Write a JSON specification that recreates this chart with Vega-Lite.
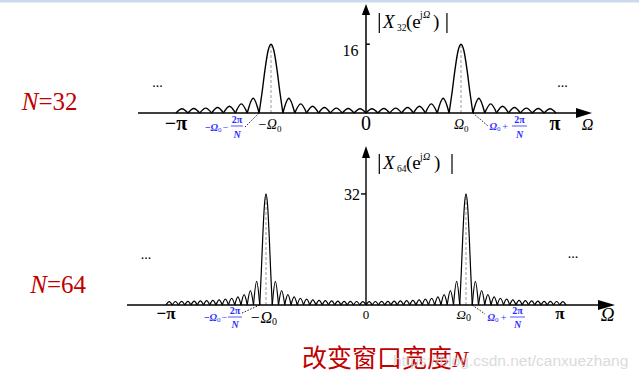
{
"$schema": "https://vega.github.io/schema/vega-lite/v6.json",
"padding": 0,
"spacing": 0,
"background": "white",
"config": {"view": {"stroke": null}, "concat": {"spacing": 0}},
"datasets": {
"c32": [
{"l":1,"x":-1,"y":0},{"l":1,"x":-0.96875,"y":1.005},{"l":1,"x":-0.9375,"y":0},
{"l":2,"x":-0.9375,"y":0},{"l":2,"x":-0.90625,"y":1.045},{"l":2,"x":-0.875,"y":0},
{"l":3,"x":-0.875,"y":0},{"l":3,"x":-0.84375,"y":1.134},{"l":3,"x":-0.8125,"y":0},
{"l":4,"x":-0.8125,"y":0},{"l":4,"x":-0.78125,"y":1.294},{"l":4,"x":-0.75,"y":0},
{"l":5,"x":-0.75,"y":0},{"l":5,"x":-0.71875,"y":1.576},{"l":5,"x":-0.6875,"y":0},
{"l":6,"x":-0.6875,"y":0},{"l":6,"x":-0.65625,"y":2.121},{"l":6,"x":-0.625,"y":0},
{"l":7,"x":-0.625,"y":0},{"l":7,"x":-0.59375,"y":3.445},{"l":7,"x":-0.5625,"y":0},
{"l":8,"x":-0.5625,"y":0},{"l":8,"x":-0.546875,"y":4.82},{"l":8,"x":-0.53125,"y":10.2},{"l":8,"x":-0.515625,"y":14.41},{"l":8,"x":-0.5,"y":16},{"l":8,"x":-0.484375,"y":14.41},{"l":8,"x":-0.46875,"y":10.2},{"l":8,"x":-0.453125,"y":4.82},{"l":8,"x":-0.4375,"y":0},
{"l":9,"x":-0.4375,"y":0},{"l":9,"x":-0.40625,"y":3.445},{"l":9,"x":-0.375,"y":0},
{"l":10,"x":-0.375,"y":0},{"l":10,"x":-0.34375,"y":2.121},{"l":10,"x":-0.3125,"y":0},
{"l":11,"x":-0.3125,"y":0},{"l":11,"x":-0.28125,"y":1.576},{"l":11,"x":-0.25,"y":0},
{"l":12,"x":-0.25,"y":0},{"l":12,"x":-0.21875,"y":1.294},{"l":12,"x":-0.1875,"y":0},
{"l":13,"x":-0.1875,"y":0},{"l":13,"x":-0.15625,"y":1.134},{"l":13,"x":-0.125,"y":0},
{"l":14,"x":-0.125,"y":0},{"l":14,"x":-0.09375,"y":1.045},{"l":14,"x":-0.0625,"y":0},
{"l":15,"x":-0.0625,"y":0},{"l":15,"x":-0.03125,"y":1.005},{"l":15,"x":0,"y":0},
{"l":16,"x":0,"y":0},{"l":16,"x":0.03125,"y":1.005},{"l":16,"x":0.0625,"y":0},
{"l":17,"x":0.0625,"y":0},{"l":17,"x":0.09375,"y":1.045},{"l":17,"x":0.125,"y":0},
{"l":18,"x":0.125,"y":0},{"l":18,"x":0.15625,"y":1.134},{"l":18,"x":0.1875,"y":0},
{"l":19,"x":0.1875,"y":0},{"l":19,"x":0.21875,"y":1.294},{"l":19,"x":0.25,"y":0},
{"l":20,"x":0.25,"y":0},{"l":20,"x":0.28125,"y":1.576},{"l":20,"x":0.3125,"y":0},
{"l":21,"x":0.3125,"y":0},{"l":21,"x":0.34375,"y":2.121},{"l":21,"x":0.375,"y":0},
{"l":22,"x":0.375,"y":0},{"l":22,"x":0.40625,"y":3.445},{"l":22,"x":0.4375,"y":0},
{"l":23,"x":0.4375,"y":0},{"l":23,"x":0.453125,"y":4.82},{"l":23,"x":0.46875,"y":10.2},{"l":23,"x":0.484375,"y":14.41},{"l":23,"x":0.5,"y":16},{"l":23,"x":0.515625,"y":14.41},{"l":23,"x":0.53125,"y":10.2},{"l":23,"x":0.546875,"y":4.82},{"l":23,"x":0.5625,"y":0},
{"l":24,"x":0.5625,"y":0},{"l":24,"x":0.59375,"y":3.445},{"l":24,"x":0.625,"y":0},
{"l":25,"x":0.625,"y":0},{"l":25,"x":0.65625,"y":2.121},{"l":25,"x":0.6875,"y":0},
{"l":26,"x":0.6875,"y":0},{"l":26,"x":0.71875,"y":1.576},{"l":26,"x":0.75,"y":0},
{"l":27,"x":0.75,"y":0},{"l":27,"x":0.78125,"y":1.294},{"l":27,"x":0.8125,"y":0},
{"l":28,"x":0.8125,"y":0},{"l":28,"x":0.84375,"y":1.134},{"l":28,"x":0.875,"y":0},
{"l":29,"x":0.875,"y":0},{"l":29,"x":0.90625,"y":1.045},{"l":29,"x":0.9375,"y":0},
{"l":30,"x":0.9375,"y":0},{"l":30,"x":0.96875,"y":1.005},{"l":30,"x":1,"y":0}
],
"c64": [
{"l":1,"x":-1,"y":0},{"l":1,"x":-0.984375,"y":1.001},{"l":1,"x":-0.96875,"y":0},
{"l":2,"x":-0.96875,"y":0},{"l":2,"x":-0.953125,"y":1.011},{"l":2,"x":-0.9375,"y":0},
{"l":3,"x":-0.9375,"y":0},{"l":3,"x":-0.921875,"y":1.031},{"l":3,"x":-0.90625,"y":0},
{"l":4,"x":-0.90625,"y":0},{"l":4,"x":-0.890625,"y":1.062},{"l":4,"x":-0.875,"y":0},
{"l":5,"x":-0.875,"y":0},{"l":5,"x":-0.859375,"y":1.106},{"l":5,"x":-0.84375,"y":0},
{"l":6,"x":-0.84375,"y":0},{"l":6,"x":-0.828125,"y":1.166},{"l":6,"x":-0.8125,"y":0},
{"l":7,"x":-0.8125,"y":0},{"l":7,"x":-0.796875,"y":1.245},{"l":7,"x":-0.78125,"y":0},
{"l":8,"x":-0.78125,"y":0},{"l":8,"x":-0.765625,"y":1.35},{"l":8,"x":-0.75,"y":0},
{"l":9,"x":-0.75,"y":0},{"l":9,"x":-0.734375,"y":1.489},{"l":9,"x":-0.71875,"y":0},
{"l":10,"x":-0.71875,"y":0},{"l":10,"x":-0.703125,"y":1.679},{"l":10,"x":-0.6875,"y":0},
{"l":11,"x":-0.6875,"y":0},{"l":11,"x":-0.671875,"y":1.945},{"l":11,"x":-0.65625,"y":0},
{"l":12,"x":-0.65625,"y":0},{"l":12,"x":-0.640625,"y":2.339},{"l":12,"x":-0.625,"y":0},
{"l":13,"x":-0.625,"y":0},{"l":13,"x":-0.609375,"y":2.968},{"l":13,"x":-0.59375,"y":0},
{"l":14,"x":-0.59375,"y":0},{"l":14,"x":-0.578125,"y":4.116},{"l":14,"x":-0.5625,"y":0},
{"l":15,"x":-0.5625,"y":0},{"l":15,"x":-0.546875,"y":6.815},{"l":15,"x":-0.53125,"y":0},
{"l":16,"x":-0.53125,"y":0},{"l":16,"x":-0.5234375,"y":9.612},{"l":16,"x":-0.515625,"y":20.38},{"l":16,"x":-0.5078125,"y":28.81},{"l":16,"x":-0.5,"y":32},{"l":16,"x":-0.4921875,"y":28.81},{"l":16,"x":-0.484375,"y":20.38},{"l":16,"x":-0.4765625,"y":9.612},{"l":16,"x":-0.46875,"y":0},
{"l":17,"x":-0.46875,"y":0},{"l":17,"x":-0.453125,"y":6.815},{"l":17,"x":-0.4375,"y":0},
{"l":18,"x":-0.4375,"y":0},{"l":18,"x":-0.421875,"y":4.116},{"l":18,"x":-0.40625,"y":0},
{"l":19,"x":-0.40625,"y":0},{"l":19,"x":-0.390625,"y":2.968},{"l":19,"x":-0.375,"y":0},
{"l":20,"x":-0.375,"y":0},{"l":20,"x":-0.359375,"y":2.339},{"l":20,"x":-0.34375,"y":0},
{"l":21,"x":-0.34375,"y":0},{"l":21,"x":-0.328125,"y":1.945},{"l":21,"x":-0.3125,"y":0},
{"l":22,"x":-0.3125,"y":0},{"l":22,"x":-0.296875,"y":1.679},{"l":22,"x":-0.28125,"y":0},
{"l":23,"x":-0.28125,"y":0},{"l":23,"x":-0.265625,"y":1.489},{"l":23,"x":-0.25,"y":0},
{"l":24,"x":-0.25,"y":0},{"l":24,"x":-0.234375,"y":1.35},{"l":24,"x":-0.21875,"y":0},
{"l":25,"x":-0.21875,"y":0},{"l":25,"x":-0.203125,"y":1.245},{"l":25,"x":-0.1875,"y":0},
{"l":26,"x":-0.1875,"y":0},{"l":26,"x":-0.171875,"y":1.166},{"l":26,"x":-0.15625,"y":0},
{"l":27,"x":-0.15625,"y":0},{"l":27,"x":-0.140625,"y":1.106},{"l":27,"x":-0.125,"y":0},
{"l":28,"x":-0.125,"y":0},{"l":28,"x":-0.109375,"y":1.062},{"l":28,"x":-0.09375,"y":0},
{"l":29,"x":-0.09375,"y":0},{"l":29,"x":-0.078125,"y":1.031},{"l":29,"x":-0.0625,"y":0},
{"l":30,"x":-0.0625,"y":0},{"l":30,"x":-0.046875,"y":1.011},{"l":30,"x":-0.03125,"y":0},
{"l":31,"x":-0.03125,"y":0},{"l":31,"x":-0.015625,"y":1.001},{"l":31,"x":0,"y":0},
{"l":32,"x":0,"y":0},{"l":32,"x":0.015625,"y":1.001},{"l":32,"x":0.03125,"y":0},
{"l":33,"x":0.03125,"y":0},{"l":33,"x":0.046875,"y":1.011},{"l":33,"x":0.0625,"y":0},
{"l":34,"x":0.0625,"y":0},{"l":34,"x":0.078125,"y":1.031},{"l":34,"x":0.09375,"y":0},
{"l":35,"x":0.09375,"y":0},{"l":35,"x":0.109375,"y":1.062},{"l":35,"x":0.125,"y":0},
{"l":36,"x":0.125,"y":0},{"l":36,"x":0.140625,"y":1.106},{"l":36,"x":0.15625,"y":0},
{"l":37,"x":0.15625,"y":0},{"l":37,"x":0.171875,"y":1.166},{"l":37,"x":0.1875,"y":0},
{"l":38,"x":0.1875,"y":0},{"l":38,"x":0.203125,"y":1.245},{"l":38,"x":0.21875,"y":0},
{"l":39,"x":0.21875,"y":0},{"l":39,"x":0.234375,"y":1.35},{"l":39,"x":0.25,"y":0},
{"l":40,"x":0.25,"y":0},{"l":40,"x":0.265625,"y":1.489},{"l":40,"x":0.28125,"y":0},
{"l":41,"x":0.28125,"y":0},{"l":41,"x":0.296875,"y":1.679},{"l":41,"x":0.3125,"y":0},
{"l":42,"x":0.3125,"y":0},{"l":42,"x":0.328125,"y":1.945},{"l":42,"x":0.34375,"y":0},
{"l":43,"x":0.34375,"y":0},{"l":43,"x":0.359375,"y":2.339},{"l":43,"x":0.375,"y":0},
{"l":44,"x":0.375,"y":0},{"l":44,"x":0.390625,"y":2.968},{"l":44,"x":0.40625,"y":0},
{"l":45,"x":0.40625,"y":0},{"l":45,"x":0.421875,"y":4.116},{"l":45,"x":0.4375,"y":0},
{"l":46,"x":0.4375,"y":0},{"l":46,"x":0.453125,"y":6.815},{"l":46,"x":0.46875,"y":0},
{"l":47,"x":0.46875,"y":0},{"l":47,"x":0.4765625,"y":9.612},{"l":47,"x":0.484375,"y":20.38},{"l":47,"x":0.4921875,"y":28.81},{"l":47,"x":0.5,"y":32},{"l":47,"x":0.5078125,"y":28.81},{"l":47,"x":0.515625,"y":20.38},{"l":47,"x":0.5234375,"y":9.612},{"l":47,"x":0.53125,"y":0},
{"l":48,"x":0.53125,"y":0},{"l":48,"x":0.546875,"y":6.815},{"l":48,"x":0.5625,"y":0},
{"l":49,"x":0.5625,"y":0},{"l":49,"x":0.578125,"y":4.116},{"l":49,"x":0.59375,"y":0},
{"l":50,"x":0.59375,"y":0},{"l":50,"x":0.609375,"y":2.968},{"l":50,"x":0.625,"y":0},
{"l":51,"x":0.625,"y":0},{"l":51,"x":0.640625,"y":2.339},{"l":51,"x":0.65625,"y":0},
{"l":52,"x":0.65625,"y":0},{"l":52,"x":0.671875,"y":1.945},{"l":52,"x":0.6875,"y":0},
{"l":53,"x":0.6875,"y":0},{"l":53,"x":0.703125,"y":1.679},{"l":53,"x":0.71875,"y":0},
{"l":54,"x":0.71875,"y":0},{"l":54,"x":0.734375,"y":1.489},{"l":54,"x":0.75,"y":0},
{"l":55,"x":0.75,"y":0},{"l":55,"x":0.765625,"y":1.35},{"l":55,"x":0.78125,"y":0},
{"l":56,"x":0.78125,"y":0},{"l":56,"x":0.796875,"y":1.245},{"l":56,"x":0.8125,"y":0},
{"l":57,"x":0.8125,"y":0},{"l":57,"x":0.828125,"y":1.166},{"l":57,"x":0.84375,"y":0},
{"l":58,"x":0.84375,"y":0},{"l":58,"x":0.859375,"y":1.106},{"l":58,"x":0.875,"y":0},
{"l":59,"x":0.875,"y":0},{"l":59,"x":0.890625,"y":1.062},{"l":59,"x":0.90625,"y":0},
{"l":60,"x":0.90625,"y":0},{"l":60,"x":0.921875,"y":1.031},{"l":60,"x":0.9375,"y":0},
{"l":61,"x":0.9375,"y":0},{"l":61,"x":0.953125,"y":1.011},{"l":61,"x":0.96875,"y":0},
{"l":62,"x":0.96875,"y":0},{"l":62,"x":0.984375,"y":1.001},{"l":62,"x":1,"y":0}
],
"band": [{"x":-1.926316,"x2":1.436842,"y":26.27907,"y2":25.6977}],
"r1ax": [{"x":-1.2,"x2":1.1105,"y":0,"y2":0},{"x":0,"x2":0,"y":0,"y2":22.79},{"x":0,"x2":0.02,"y":16,"y2":16}],
"r1bar": [{"x":0.07,"x2":0.07,"y":23.26,"y2":18.6},{"x":0.426,"x2":0.426,"y":23.26,"y2":18.6}],
"r1dash": [{"x":-0.5,"x2":-0.5,"y":0,"y2":16},{"x":0.5,"x2":0.5,"y":0,"y2":16}],
"r1lead": [{"x":-0.637,"x2":-0.5625,"y":-3.26,"y2":0},{"x":0.5625,"x2":0.642,"y":0,"y2":-3.02}],
"r1frac": [{"x":-0.7105,"x2":-0.6474,"y":-3.02,"y2":-3.02},{"x":0.768,"x2":0.847,"y":-3.02,"y2":-3.02}],
"p1h": [{"x":1.1474,"y":0}],
"p1v": [{"x":0,"y":24.07}],
"t1pi": [{"x":-1,"y":-3.84,"t":"−π"},{"x":0.995,"y":-3.84,"t":"π"}],
"t1zero": [{"x":0,"y":-3.95,"t":"0"}],
"t1tick": [{"x":-0.0395,"y":13.26,"t":"16"}],
"t1om": [{"x":-0.4684,"y":-3.72,"t":"−Ω"},{"x":0.5158,"y":-3.72,"t":"Ω"}],
"t1sub": [{"x":-0.4684,"y":-4.4,"t":"0"},{"x":0.5158,"y":-4.4,"t":"0"}],
"t1axn": [{"x":1.166,"y":-3.95,"t":"Ω"}],
"t1dots": [{"x":-1.097,"y":6.05,"t":"..."},{"x":1.034,"y":6.16,"t":"..."}],
"t1X": [{"x":0.0895,"y":19.7,"t":"X"}],
"t1par": [{"x":0.2105,"y":19.7,"t":"(e"},{"x":0.3526,"y":19.7,"t":")"}],
"t1s": [{"x":0.1632,"y":19.07,"t":"32"},{"x":0.284,"y":21.98,"t":"j"}],
"t1sO": [{"x":0.3,"y":21.98,"t":"Ω"}],
"t1bO": [{"x":-0.779,"y":-4.19,"t":"−Ω"},{"x":0.6895,"y":-3.95,"t":"Ω"}],
"t1bsub": [{"x":-0.779,"y":-4.53,"t":"0"},{"x":0.6895,"y":-4.3,"t":"0"}],
"t1bop": [{"x":-0.7395,"y":-4.19,"t":"−"},{"x":0.7316,"y":-3.95,"t":"+"}],
"t1b2pi": [{"x":-0.679,"y":-2.33,"t":"2π"},{"x":0.8079,"y":-2.33,"t":"2π"}],
"t1bN": [{"x":-0.679,"y":-5.93,"t":"N"},{"x":0.8079,"y":-5.93,"t":"N"}],
"t1rN": [{"x":-1.7237,"y":0.698,"t":"N"}],
"t1rEq": [{"x":-1.7237,"y":0.698,"t":"=32"}],
"r2ax": [{"x":-1.195,"x2":1.16,"y":0,"y2":0},{"x":0,"x2":0,"y":0,"y2":42.36},{"x":-0.025,"x2":0,"y":32,"y2":32}],
"r2bar": [{"x":0.0665,"x2":0.0665,"y":43.52,"y2":37.75},{"x":0.43,"x2":0.43,"y":43.52,"y2":37.75}],
"r2dash": [{"x":-0.5,"x2":-0.5,"y":0,"y2":32},{"x":0.5,"x2":0.5,"y":0,"y2":32}],
"r2lead": [{"x":-0.62,"x2":-0.53125,"y":-2.31,"y2":0},{"x":0.53125,"x2":0.595,"y":0,"y2":-2.59}],
"r2frac": [{"x":-0.69,"x2":-0.62,"y":-3.46,"y2":-3.46},{"x":0.72,"x2":0.795,"y":-3.46,"y2":-3.46}],
"p2h": [{"x":1.2025,"y":0}],
"p2v": [{"x":0,"y":44.09}],
"t2pi": [{"x":-1,"y":-4.03,"t":"−π"},{"x":0.97,"y":-4.03,"t":"π"}],
"t2zero": [{"x":0,"y":-4.03,"t":"0"}],
"t2tick": [{"x":-0.03,"y":30.4,"t":"32"}],
"t2omL": [{"x":-0.47,"y":-5.19,"t":"−Ω"}],
"t2omR": [{"x":0.5,"y":-4.03,"t":"Ω"}],
"t2sub": [{"x":-0.47,"y":-5.62,"t":"0"},{"x":0.5,"y":-4.61,"t":"0"}],
"t2axn": [{"x":1.2075,"y":-4.61,"t":"Ω"}],
"t2dots": [{"x":-1.1,"y":13.26,"t":"..."},{"x":1.035,"y":13.54,"t":"..."}],
"t2X": [{"x":0.085,"y":39.11,"t":"X"}],
"t2par": [{"x":0.2,"y":39.11,"t":"(e"},{"x":0.34,"y":39.11,"t":")"}],
"t2s": [{"x":0.155,"y":38.47,"t":"64"},{"x":0.27,"y":41.93,"t":"j"}],
"t2sO": [{"x":0.285,"y":41.93,"t":"Ω"}],
"t2bO": [{"x":-0.745,"y":-4.61,"t":"−Ω"},{"x":0.645,"y":-4.61,"t":"Ω"}],
"t2bsub": [{"x":-0.745,"y":-5.04,"t":"0"},{"x":0.645,"y":-5.04,"t":"0"}],
"t2bop": [{"x":-0.7075,"y":-4.61,"t":"−"},{"x":0.6875,"y":-4.61,"t":"+"}],
"t2b2pi": [{"x":-0.655,"y":-2.59,"t":"2π"},{"x":0.7575,"y":-2.59,"t":"2π"}],
"t2bN": [{"x":-0.655,"y":-6.63,"t":"N"},{"x":0.7575,"y":-6.63,"t":"N"}],
"t2rN": [{"x":-1.595,"y":3.46,"t":"N"}],
"t2rEq": [{"x":-1.595,"y":3.46,"t":"=64"}],
"t2cn": [{"x":-0.32,"y":-17.87,"t":"改变窗口宽度"}],
"t2cnN": [{"x":0.43,"y":-17.87,"t":"N"}],
"t2wm": [{"x":0.135,"y":-17.58,"t":"https://blog.csdn.net/canxuezhang"}]
},
"vconcat": [
{
"width": 639, "height": 140,
"encoding": {
"x": {"field": "x", "type": "quantitative", "scale": {"domain": [-1.926316, 1.436842], "nice": false, "zero": false}, "axis": null},
"y": {"field": "y", "type": "quantitative", "scale": {"domain": [-6.27907, 26.27907], "nice": false, "zero": false}, "axis": null}
},
"layer": [
{"data": {"name": "band"}, "mark": {"type": "rect", "color": "#c9d9ee"}, "encoding": {"x2": {"field": "x2"}, "y2": {"field": "y2"}}},
{"data": {"name": "r1dash"}, "mark": {"type": "rule", "color": "#999999", "strokeWidth": 1, "strokeDash": [3, 2]}, "encoding": {"x2": {"field": "x2"}, "y2": {"field": "y2"}}},
{"data": {"name": "r1ax"}, "mark": {"type": "rule", "color": "#000000", "strokeWidth": 1.5}, "encoding": {"x2": {"field": "x2"}, "y2": {"field": "y2"}}},
{"data": {"name": "c32"}, "mark": {"type": "line", "interpolate": "monotone", "color": "#000000", "strokeWidth": 1.4}, "encoding": {"detail": {"field": "l"}}},
{"data": {"name": "r1lead"}, "mark": {"type": "rule", "color": "#000000", "strokeWidth": 0.9, "strokeDash": [1.5, 1.5]}, "encoding": {"x2": {"field": "x2"}, "y2": {"field": "y2"}}},
{"data": {"name": "r1bar"}, "mark": {"type": "rule", "color": "#000000", "strokeWidth": 1.2}, "encoding": {"x2": {"field": "x2"}, "y2": {"field": "y2"}}},
{"data": {"name": "r1frac"}, "mark": {"type": "rule", "color": "#2b2bff", "strokeWidth": 0.8}, "encoding": {"x2": {"field": "x2"}, "y2": {"field": "y2"}}},
{"data": {"name": "p1h"}, "mark": {"type": "point", "shape": "M-1,-0.62L1,0L-1,0.62Z", "size": 256, "filled": true, "color": "#000000", "opacity": 1}},
{"data": {"name": "p1v"}, "mark": {"type": "point", "shape": "M0,-1L0.75,1L-0.75,1Z", "size": 121, "filled": true, "color": "#000000", "opacity": 1}},
{"data": {"name": "t1pi"}, "mark": {"type": "text", "font": "Liberation Serif", "fontSize": 20, "fontWeight": "bold", "align": "center", "baseline": "alphabetic", "color": "#000000"}, "encoding": {"text": {"field": "t"}}},
{"data": {"name": "t1zero"}, "mark": {"type": "text", "font": "Liberation Serif", "fontSize": 20, "align": "center", "baseline": "alphabetic", "color": "#000000"}, "encoding": {"text": {"field": "t"}}},
{"data": {"name": "t1tick"}, "mark": {"type": "text", "font": "Liberation Serif", "fontSize": 16, "align": "right", "baseline": "alphabetic", "color": "#000000"}, "encoding": {"text": {"field": "t"}}},
{"data": {"name": "t1om"}, "mark": {"type": "text", "font": "Liberation Serif", "fontSize": 14, "fontStyle": "italic", "align": "right", "baseline": "alphabetic", "color": "#000000"}, "encoding": {"text": {"field": "t"}}},
{"data": {"name": "t1sub"}, "mark": {"type": "text", "font": "Liberation Serif", "fontSize": 9, "align": "left", "baseline": "alphabetic", "color": "#000000"}, "encoding": {"text": {"field": "t"}}},
{"data": {"name": "t1axn"}, "mark": {"type": "text", "font": "Liberation Serif", "fontSize": 16, "fontStyle": "italic", "align": "center", "baseline": "alphabetic", "color": "#000000"}, "encoding": {"text": {"field": "t"}}},
{"data": {"name": "t1dots"}, "mark": {"type": "text", "font": "Liberation Serif", "fontSize": 14, "align": "center", "baseline": "alphabetic", "color": "#000000"}, "encoding": {"text": {"field": "t"}}},
{"data": {"name": "t1X"}, "mark": {"type": "text", "font": "Liberation Serif", "fontSize": 19, "fontStyle": "italic", "align": "left", "baseline": "alphabetic", "color": "#000000"}, "encoding": {"text": {"field": "t"}}},
{"data": {"name": "t1par"}, "mark": {"type": "text", "font": "Liberation Serif", "fontSize": 19, "align": "left", "baseline": "alphabetic", "color": "#000000"}, "encoding": {"text": {"field": "t"}}},
{"data": {"name": "t1s"}, "mark": {"type": "text", "font": "Liberation Serif", "fontSize": 9.5, "align": "left", "baseline": "alphabetic", "color": "#000000"}, "encoding": {"text": {"field": "t"}}},
{"data": {"name": "t1sO"}, "mark": {"type": "text", "font": "Liberation Serif", "fontSize": 10, "fontStyle": "italic", "align": "left", "baseline": "alphabetic", "color": "#000000"}, "encoding": {"text": {"field": "t"}}},
{"data": {"name": "t1bO"}, "mark": {"type": "text", "font": "Liberation Serif", "fontSize": 10, "fontStyle": "italic", "fontWeight": "bold", "align": "right", "baseline": "alphabetic", "color": "#2b2bff"}, "encoding": {"text": {"field": "t"}}},
{"data": {"name": "t1bsub"}, "mark": {"type": "text", "font": "Liberation Serif", "fontSize": 7, "align": "left", "baseline": "alphabetic", "color": "#2b2bff"}, "encoding": {"text": {"field": "t"}}},
{"data": {"name": "t1bop"}, "mark": {"type": "text", "font": "Liberation Serif", "fontSize": 10, "align": "center", "baseline": "alphabetic", "color": "#2b2bff"}, "encoding": {"text": {"field": "t"}}},
{"data": {"name": "t1b2pi"}, "mark": {"type": "text", "font": "Liberation Serif", "fontSize": 10, "fontWeight": "bold", "align": "center", "baseline": "alphabetic", "color": "#2b2bff"}, "encoding": {"text": {"field": "t"}}},
{"data": {"name": "t1bN"}, "mark": {"type": "text", "font": "Liberation Serif", "fontSize": 10, "fontStyle": "italic", "fontWeight": "bold", "align": "center", "baseline": "alphabetic", "color": "#2b2bff"}, "encoding": {"text": {"field": "t"}}},
{"data": {"name": "t1rN"}, "mark": {"type": "text", "font": "Liberation Serif", "fontSize": 25, "fontStyle": "italic", "align": "right", "baseline": "alphabetic", "color": "#c00000"}, "encoding": {"text": {"field": "t"}}},
{"data": {"name": "t1rEq"}, "mark": {"type": "text", "font": "Liberation Serif", "fontSize": 25, "align": "left", "baseline": "alphabetic", "color": "#c00000"}, "encoding": {"text": {"field": "t"}}}
]
},
{
"width": 639, "height": 239,
"encoding": {
"x": {"field": "x", "type": "quantitative", "scale": {"domain": [-1.83, 1.365], "nice": false, "zero": false}, "axis": null},
"y": {"field": "y", "type": "quantitative", "scale": {"domain": [-21.6138, 47.2622], "nice": false, "zero": false}, "axis": null}
},
"layer": [
{"data": {"name": "r2dash"}, "mark": {"type": "rule", "color": "#999999", "strokeWidth": 1, "strokeDash": [3, 2]}, "encoding": {"x2": {"field": "x2"}, "y2": {"field": "y2"}}},
{"data": {"name": "r2ax"}, "mark": {"type": "rule", "color": "#000000", "strokeWidth": 1.4}, "encoding": {"x2": {"field": "x2"}, "y2": {"field": "y2"}}},
{"data": {"name": "c64"}, "mark": {"type": "line", "interpolate": "monotone", "color": "#000000", "strokeWidth": 1.2}, "encoding": {"detail": {"field": "l"}}},
{"data": {"name": "r2lead"}, "mark": {"type": "rule", "color": "#000000", "strokeWidth": 0.9, "strokeDash": [1.5, 1.5]}, "encoding": {"x2": {"field": "x2"}, "y2": {"field": "y2"}}},
{"data": {"name": "r2bar"}, "mark": {"type": "rule", "color": "#000000", "strokeWidth": 1.2}, "encoding": {"x2": {"field": "x2"}, "y2": {"field": "y2"}}},
{"data": {"name": "r2frac"}, "mark": {"type": "rule", "color": "#2b2bff", "strokeWidth": 0.8}, "encoding": {"x2": {"field": "x2"}, "y2": {"field": "y2"}}},
{"data": {"name": "p2h"}, "mark": {"type": "point", "shape": "M-1,-0.6L1,0L-1,0.6Z", "size": 289, "filled": true, "color": "#000000", "opacity": 1}},
{"data": {"name": "p2v"}, "mark": {"type": "point", "shape": "M0,-1L0.67,1L-0.67,1Z", "size": 144, "filled": true, "color": "#000000", "opacity": 1}},
{"data": {"name": "t2pi"}, "mark": {"type": "text", "font": "Liberation Serif", "fontSize": 17, "fontWeight": "bold", "align": "center", "baseline": "alphabetic", "color": "#000000"}, "encoding": {"text": {"field": "t"}}},
{"data": {"name": "t2zero"}, "mark": {"type": "text", "font": "Liberation Serif", "fontSize": 13, "align": "center", "baseline": "alphabetic", "color": "#000000"}, "encoding": {"text": {"field": "t"}}},
{"data": {"name": "t2tick"}, "mark": {"type": "text", "font": "Liberation Serif", "fontSize": 16, "align": "right", "baseline": "alphabetic", "color": "#000000"}, "encoding": {"text": {"field": "t"}}},
{"data": {"name": "t2omL"}, "mark": {"type": "text", "font": "Liberation Serif", "fontSize": 16, "fontStyle": "italic", "align": "right", "baseline": "alphabetic", "color": "#000000"}, "encoding": {"text": {"field": "t"}}},
{"data": {"name": "t2omR"}, "mark": {"type": "text", "font": "Liberation Serif", "fontSize": 13, "fontStyle": "italic", "align": "right", "baseline": "alphabetic", "color": "#000000"}, "encoding": {"text": {"field": "t"}}},
{"data": {"name": "t2sub"}, "mark": {"type": "text", "font": "Liberation Serif", "fontSize": 10, "align": "left", "baseline": "alphabetic", "color": "#000000"}, "encoding": {"text": {"field": "t"}}},
{"data": {"name": "t2axn"}, "mark": {"type": "text", "font": "Liberation Serif", "fontSize": 19, "fontStyle": "italic", "align": "center", "baseline": "alphabetic", "color": "#000000"}, "encoding": {"text": {"field": "t"}}},
{"data": {"name": "t2dots"}, "mark": {"type": "text", "font": "Liberation Serif", "fontSize": 14, "align": "center", "baseline": "alphabetic", "color": "#000000"}, "encoding": {"text": {"field": "t"}}},
{"data": {"name": "t2X"}, "mark": {"type": "text", "font": "Liberation Serif", "fontSize": 19, "fontStyle": "italic", "align": "left", "baseline": "alphabetic", "color": "#000000"}, "encoding": {"text": {"field": "t"}}},
{"data": {"name": "t2par"}, "mark": {"type": "text", "font": "Liberation Serif", "fontSize": 19, "align": "left", "baseline": "alphabetic", "color": "#000000"}, "encoding": {"text": {"field": "t"}}},
{"data": {"name": "t2s"}, "mark": {"type": "text", "font": "Liberation Serif", "fontSize": 9.5, "align": "left", "baseline": "alphabetic", "color": "#000000"}, "encoding": {"text": {"field": "t"}}},
{"data": {"name": "t2sO"}, "mark": {"type": "text", "font": "Liberation Serif", "fontSize": 10, "fontStyle": "italic", "align": "left", "baseline": "alphabetic", "color": "#000000"}, "encoding": {"text": {"field": "t"}}},
{"data": {"name": "t2bO"}, "mark": {"type": "text", "font": "Liberation Serif", "fontSize": 10, "fontStyle": "italic", "fontWeight": "bold", "align": "right", "baseline": "alphabetic", "color": "#2b2bff"}, "encoding": {"text": {"field": "t"}}},
{"data": {"name": "t2bsub"}, "mark": {"type": "text", "font": "Liberation Serif", "fontSize": 7, "align": "left", "baseline": "alphabetic", "color": "#2b2bff"}, "encoding": {"text": {"field": "t"}}},
{"data": {"name": "t2bop"}, "mark": {"type": "text", "font": "Liberation Serif", "fontSize": 10, "align": "center", "baseline": "alphabetic", "color": "#2b2bff"}, "encoding": {"text": {"field": "t"}}},
{"data": {"name": "t2b2pi"}, "mark": {"type": "text", "font": "Liberation Serif", "fontSize": 10, "fontWeight": "bold", "align": "center", "baseline": "alphabetic", "color": "#2b2bff"}, "encoding": {"text": {"field": "t"}}},
{"data": {"name": "t2bN"}, "mark": {"type": "text", "font": "Liberation Serif", "fontSize": 10, "fontStyle": "italic", "fontWeight": "bold", "align": "center", "baseline": "alphabetic", "color": "#2b2bff"}, "encoding": {"text": {"field": "t"}}},
{"data": {"name": "t2rN"}, "mark": {"type": "text", "font": "Liberation Serif", "fontSize": 25, "fontStyle": "italic", "align": "right", "baseline": "alphabetic", "color": "#c00000"}, "encoding": {"text": {"field": "t"}}},
{"data": {"name": "t2rEq"}, "mark": {"type": "text", "font": "Liberation Serif", "fontSize": 25, "align": "left", "baseline": "alphabetic", "color": "#c00000"}, "encoding": {"text": {"field": "t"}}},
{"data": {"name": "t2cn"}, "mark": {"type": "text", "font": "Noto Sans CJK SC", "fontSize": 25, "align": "left", "baseline": "alphabetic", "color": "#c00000"}, "encoding": {"text": {"field": "t"}}},
{"data": {"name": "t2cnN"}, "mark": {"type": "text", "font": "Liberation Serif", "fontSize": 24, "fontStyle": "italic", "align": "left", "baseline": "alphabetic", "color": "#c00000"}, "encoding": {"text": {"field": "t"}}},
{"data": {"name": "t2wm"}, "mark": {"type": "text", "font": "Liberation Sans", "fontSize": 15.5, "align": "left", "baseline": "alphabetic", "color": "#cfcfcf", "opacity": 0.75}, "encoding": {"text": {"field": "t"}}}
]
}
]
}
